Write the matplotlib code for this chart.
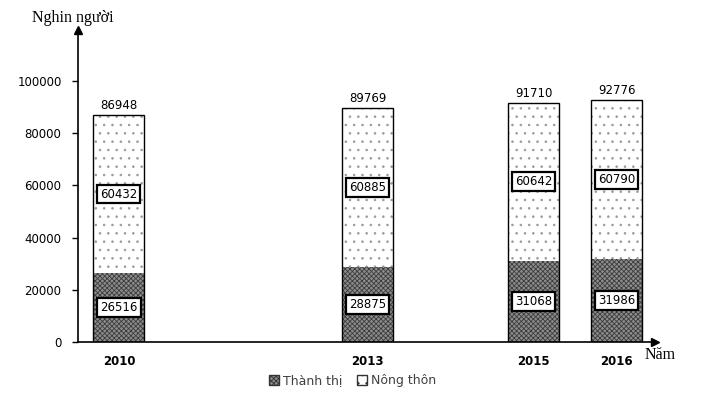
import matplotlib.pyplot as plt
from matplotlib.patches import Patch

years = [2010, 2013, 2015, 2016]
thanh_thi = [26516, 28875, 31068, 31986]
nong_thon = [60432, 60885, 60642, 60790]
totals = [86948, 89769, 91710, 92776]
y_ticks = [0, 20000, 40000, 60000, 80000, 100000]

plt.rcParams["hatch.linewidth"] = 0.6

fig = plt.figure(figsize=(7.05, 3.96), dpi=100)
ax = fig.add_axes([0.111, 0.136, 0.818, 0.788])

width = 0.615
ax.bar(years, thanh_thi, width, facecolor="#8c8c8c", edgecolor="#3c3c3c",
       hatch="xxxxxxx", linewidth=0, zorder=2)
ax.bar(years, nong_thon, width, bottom=thanh_thi, facecolor="white",
       edgecolor="#9a9a9a", hatch="..", linewidth=0, zorder=2)
# outlines
ax.bar(years, totals, width, fill=False, edgecolor="black", linewidth=1.0, zorder=3)

box = dict(boxstyle="square,pad=0.25", facecolor="white", edgecolor="black", linewidth=1.6)
for x, t, n, tot in zip(years, thanh_thi, nong_thon, totals):
    ax.text(x, t / 2, str(t), ha="center", va="center", fontsize=8.5, bbox=box, zorder=4)
    ax.text(x, t + n / 2, str(n), ha="center", va="center", fontsize=8.5, bbox=box, zorder=4)
    ax.text(x, tot + 1200, str(tot), ha="center", va="bottom", fontsize=8.5, zorder=4)

ax.set_xlim(2009.51, 2016.46)
ax.set_ylim(0, 119500)
ax.set_yticks(y_ticks)
ax.set_yticklabels([str(v) for v in y_ticks], fontsize=8.5)
ax.set_xticks(years)
ax.set_xticklabels([str(y) for y in years], fontsize=8.5, fontweight="bold")
ax.tick_params(axis="x", length=0, pad=9)
ax.tick_params(axis="y", length=4, width=1, direction="out", pad=8)

for side in ["top", "right"]:
    ax.spines[side].set_visible(False)
ax.spines["left"].set_linewidth(1.2)
ax.spines["bottom"].set_linewidth(1.2)
ax.plot(1, 0, ">k", transform=ax.transAxes, clip_on=False, markersize=6)
ax.plot(0, 1, "^k", transform=ax.transAxes, clip_on=False, markersize=6)

fig.text(0.045, 0.955, "Nghin người", fontsize=11.5, family="Liberation Serif", va="center")
fig.text(0.915, 0.103, "Năm", fontsize=11.5, family="Liberation Serif", va="center")

handles = [
    Patch(facecolor="#8c8c8c", edgecolor="#333333", hatch="xxxxxxx", label="Thành thị"),
    Patch(facecolor="white", edgecolor="#333333", hatch="..", label="Nông thôn"),
]
fig.legend(handles=handles, loc="center", bbox_to_anchor=(0.5, 0.038), ncol=2,
           frameon=False, fontsize=9, handlelength=0.8, handleheight=0.8,
           handletextpad=0.3, columnspacing=1.2, labelcolor="#404040")

fig.savefig("out.png", dpi=100)
